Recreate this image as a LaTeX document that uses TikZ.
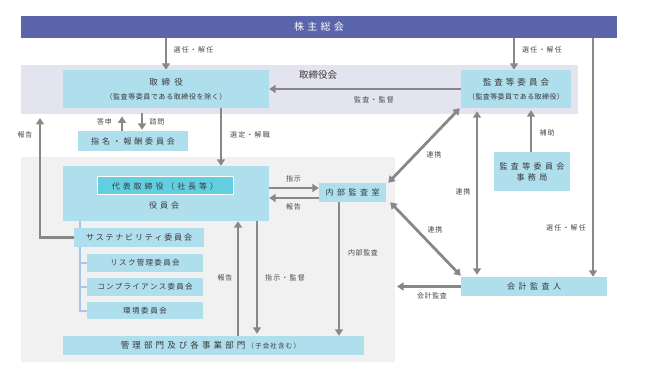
\documentclass[tikz,border=0pt]{standalone}
\usepackage{fontspec}
\setmainfont{Noto Sans CJK JP}
\usetikzlibrary{arrows.meta}
\definecolor{barblue}{HTML}{5B65AB}
\definecolor{boardbg}{HTML}{E4E4F1}
\definecolor{graybg}{HTML}{F1F1F1}
\definecolor{boxblue}{HTML}{AFDEED}
\definecolor{innerblue}{HTML}{62CFE1}
\definecolor{arrgray}{HTML}{888888}
\definecolor{txt}{HTML}{383838}
\definecolor{lbltxt}{HTML}{484848}
\definecolor{treeblue}{HTML}{A6C6E6}
\makeatletter
\newcommand\sptext[2]{\def\sp@gap{#1}\sp@first#2\relax}
\def\sp@first#1{#1\sp@loop}
\def\sp@loop#1{\ifx\relax#1\else\kern\sp@gap\relax#1\expandafter\sp@loop\fi}
\makeatother
\tikzset{
  box/.style={fill=boxblue, inner sep=0pt, text=txt, font=\fontsize{8}{10}\selectfont},
  btext/.style={inner sep=0pt, text=txt, font=\fontsize{8.5}{10}\selectfont},
  stext/.style={inner sep=0pt, text=txt, font=\fontsize{7}{8}\selectfont},
  subbox/.style={box, minimum width=116pt, minimum height=18pt, font=\fontsize{7.5}{9}\selectfont},
  lbl/.style={inner sep=0pt, text=lbltxt, font=\fontsize{7}{8}\selectfont},
  conn/.style={draw=arrgray, line width=2.8pt, -{Triangle[length=6.5pt,width=8pt]}},
  conntwo/.style={draw=arrgray, line width=2.8pt, {Triangle[length=6.5pt,width=8pt]}-{Triangle[length=6.5pt,width=8pt]}},
  tree/.style={draw=treeblue, line width=2pt},
}
\begin{document}
\begin{tikzpicture}[x=1pt,y=-1pt]
\useasboundingbox (0,0) rectangle (645,379);
\fill[white] (0,0) rectangle (645,379);
% background areas
\node[fill=boardbg, inner sep=0pt, minimum width=557pt, minimum height=49pt] (board) at (299.5,89.5) {};
\node[fill=graybg, inner sep=0pt, minimum width=374pt, minimum height=205pt] (exec) at (208,259.5) {};
\node[fill=barblue, inner sep=0pt, minimum width=596pt, minimum height=22pt, text=white, font=\fontsize{10}{12}\selectfont] (ab) at (319,27) {\sptext{3.3pt}{株主総会}};
\node[inner sep=0pt, text=txt, font=\fontsize{9.5}{11}\selectfont] (boardlbl) at (318,75) {取締役会};
% boxes
\node[box, minimum width=206pt, minimum height=38pt] (tori) at (166,89) {};
\node[btext] (toriA) at (166,82) {\sptext{4pt}{取締役}};
\node[stext] (toriB) at (166,97) {\sptext{0.6pt}{（監査等委員である取締役を除く）}};
\node[box, minimum width=110pt, minimum height=38pt] (kansa) at (516,89) {};
\node[btext] (kansaA) at (516,82) {\sptext{3pt}{監査等委員会}};
\node[stext] (kansaB) at (516,97) {\sptext{0.4pt}{（監査等委員である取締役）}};
\node[box, minimum width=110pt, minimum height=20pt] (shimei) at (133,141) {\sptext{2.8pt}{指名・報酬委員会}};
\node[box, minimum width=206pt, minimum height=55pt] (yakuin) at (166,193.5) {};
\node[fill=innerblue, draw=white, line width=1pt, inner sep=0pt, minimum width=136pt, minimum height=18pt, text=txt, font=\fontsize{8}{10}\selectfont] (daihyo) at (165,186) {\sptext{2.9pt}{代表取締役（社長等）}};
\node[inner sep=0pt, text=txt, font=\fontsize{8}{10}\selectfont] (yakuinlbl) at (164,205) {\sptext{3pt}{役員会}};
% tree line
\coordinate (tx) at (80,0);
\draw[tree] (yakuin.south -| tx) -- ++(0,8);
\node[box, minimum width=130pt, minimum height=19pt] (sus) at (139,237.5) {\sptext{1.8pt}{サステナビリティ委員会}};
\node[subbox] (risk) at (145,263) {\sptext{1.3pt}{リスク管理委員会}};
\node[subbox] (comp) at (145,287) {\sptext{1.3pt}{コンプライアンス委員会}};
\node[subbox, minimum height=17pt] (kankyo) at (145,310.5) {\sptext{1.6pt}{環境委員会}};
\draw[tree] (sus.south -| tx) -- (kankyo.west -| tx) -- (kankyo.west);
\draw[tree] (risk.west -| tx) -- (risk.west);
\draw[tree] (comp.west -| tx) -- (comp.west);
\node[box, minimum width=301pt, minimum height=19pt] (kanri) at (213.5,345.5) {};
\node[inner sep=0pt, text=txt, font=\fontsize{8.5}{10}\selectfont] (kanrilbl) at (210.5,345.5) {\sptext{3.1pt}{管理部門及び各事業部門}\hspace{2pt}{\fontsize{6.5}{7}\selectfont\sptext{1.2pt}{（子会社含む）}}};
\node[box, minimum width=67pt, minimum height=19pt] (naibu) at (352.5,192.5) {\sptext{3.5pt}{内部監査室}};
\node[box, minimum width=76pt, minimum height=39pt] (jimu) at (532,171.5) {};
\node[inner sep=0pt, text=txt, font=\fontsize{8}{10}\selectfont] (jimuA) at (532,166) {\sptext{3.4pt}{監査等委員会}};
\node[inner sep=0pt, text=txt, font=\fontsize{8}{10}\selectfont] (jimuB) at (532,177) {\sptext{3.4pt}{事務局}};
\node[box, minimum width=146pt, minimum height=19pt] (kaikei) at (534,286.5) {\sptext{3.5pt}{会計監査人}};
% helper coordinates
\coordinate (tsA) at (122,116.5);
\coordinate (shB) at (142,113);
\coordinate (selx) at (221,0);
\coordinate (rep) at (40,118);
\coordinate (rx) at (593,0);
\coordinate (kx1) at (238,0);
\coordinate (kx2) at (257,0);
\coordinate (kx3) at (339,0);
\coordinate (kax) at (397,0);
\coordinate (vx) at (477,0);
\coordinate (hx) at (531,0);
\coordinate (n1) at ([yshift=4.5pt]naibu.west);
\coordinate (n2) at ([yshift=-5.5pt]naibu.west);
% connectors
\draw[conn] (tori.north |- ab.south) -- (tori.north);
\draw[conn] ([xshift=-2pt]kansa.north |- ab.south) -- ([xshift=-2pt]kansa.north);
\draw[conn] (ab.south -| rx) -- (kaikei.north -| rx);
\draw[conn] (kansa.west) -- (tori.east);
\draw[conn] (shimei.north -| tsA) -- (tsA);
\draw[conn, shorten >=1pt] (shB) -- (shimei.north -| shB);
\draw[conn] (tori.south -| selx) -- (yakuin.north -| selx);
\draw[conn] (sus.west) -- (sus.west -| rep) -- (rep);
\draw[conn] (yakuin.east |- n1) -- (n1);
\draw[conn] (n2) -- (yakuin.east |- n2);
\draw[conn] (kanri.north -| kx1) -- (yakuin.south -| kx1);
\draw[conn, shorten >=2pt] (yakuin.south -| kx2) -- (kanri.north -| kx2);
\draw[conn] (naibu.south -| kx3) -- (kanri.north -| kx3);
\draw[conn] (kaikei.west) -- (kaikei.west -| kax);
\draw[conntwo] ([xshift=-1pt]kansa.south west) -- ([xshift=2pt]naibu.north east);
\draw[conntwo] ([xshift=4pt]naibu.south east) -- ([yshift=1pt]kaikei.north west);
\draw[conntwo, shorten <=3pt, shorten >=2pt] (kansa.south -| vx) -- (kaikei.north -| vx);
\draw[conn, shorten >=2pt] (jimu.north -| hx) -- (kansa.south -| hx);
% labels
\node[lbl] (l1) at (193.5,50) {\sptext{1.2pt}{選任・解任}};
\node[lbl] (l2) at (542,50) {\sptext{1.2pt}{選任・解任}};
\node[lbl] (l3) at (566,228) {\sptext{1.2pt}{選任・解任}};
\node[lbl] (l4) at (374,100) {\sptext{1.2pt}{監査・監督}};
\node[lbl] (l5) at (104.5,122) {\sptext{1pt}{答申}};
\node[lbl] (l6) at (157,122) {\sptext{1pt}{諮問}};
\node[lbl] (l7) at (25,135) {\sptext{1pt}{報告}};
\node[lbl] (l8) at (250,135) {\sptext{1.2pt}{選定・解職}};
\node[lbl] (l9) at (293.5,179) {\sptext{1pt}{指示}};
\node[lbl] (l10) at (293.5,207) {\sptext{1pt}{報告}};
\node[lbl] (l11) at (225,278) {\sptext{1pt}{報告}};
\node[lbl] (l12) at (285,278) {\sptext{1.2pt}{指示・監督}};
\node[lbl] (l13) at (363,253) {\sptext{0.6pt}{内部監査}};
\node[lbl] (l14) at (432,296) {\sptext{0.6pt}{会計監査}};
\node[lbl] (l15) at (434,155) {\sptext{1pt}{連携}};
\node[lbl] (l16) at (463,192) {\sptext{1pt}{連携}};
\node[lbl] (l17) at (435,230) {\sptext{1pt}{連携}};
\node[lbl] (l18) at (547,133) {\sptext{1pt}{補助}};
\end{tikzpicture}
\end{document}
